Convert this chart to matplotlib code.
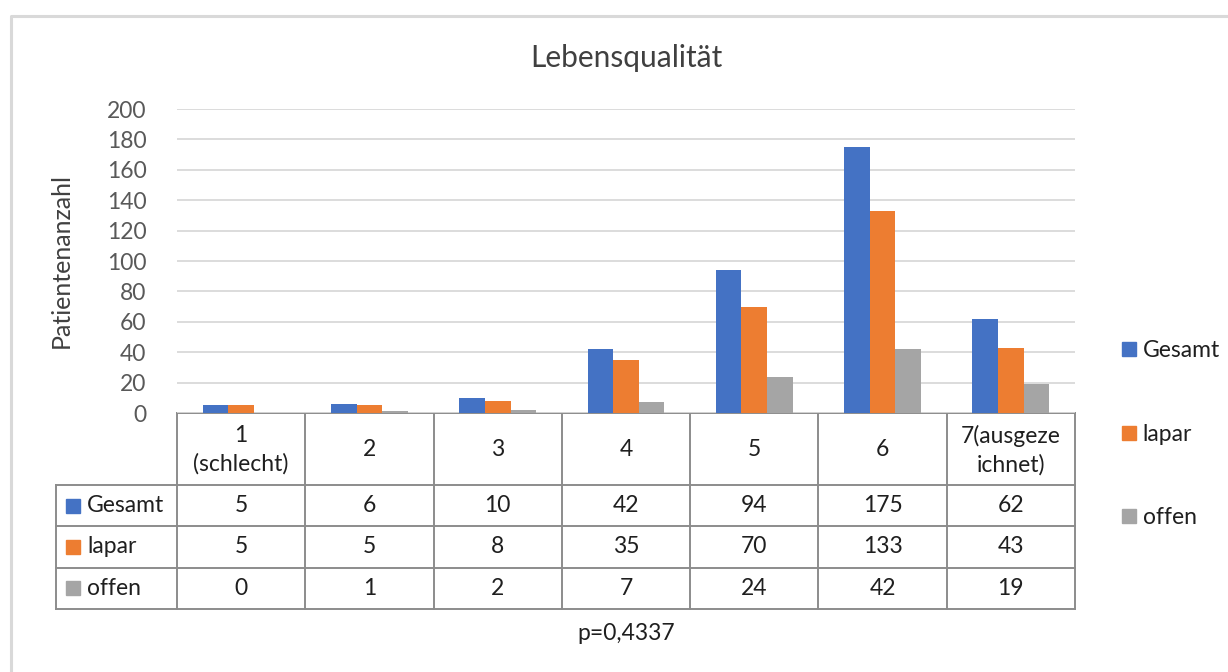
import numpy as np
import matplotlib
matplotlib.use("Agg")
import matplotlib.pyplot as plt
from matplotlib.patches import Rectangle
from matplotlib.lines import Line2D

plt.rcParams['font.family'] = ['Lato', 'DejaVu Sans']

# Lebensqualität-Skala und Patientenzahlen je Gruppe
categories = ['1\n(schlecht)', '2', '3', '4', '5', '6', '7(ausgeze\nichnet)']
series_names = ['Gesamt', 'lapar', 'offen']
gesamt = [5, 6, 10, 42, 94, 175, 62]
lapar = [5, 5, 8, 35, 70, 133, 43]
offen = [0, 1, 2, 7, 24, 42, 19]
colors = ['#4472C4', '#ED7D31', '#A5A5A5']
p_text = 'p=0,4337'

W, H = 1228, 672
fs = 16.5
fig = plt.figure(figsize=(W / 100, H / 100), dpi=100)

# overlay in pixel coordinates for frame, table and legend
ov = fig.add_axes([0, 0, 1, 1])
ov.set_xlim(0, W)
ov.set_ylim(H, 0)
ov.axis('off')

# plot area
x0, x1, ytop, ybot = 177, 1075, 109, 413
ax = fig.add_axes([x0 / W, 1 - ybot / H, (x1 - x0) / W, (ybot - ytop) / H])
ax.set_xlim(0, len(categories))
ax.set_ylim(0, 200)
ax.set_yticks(np.arange(0, 201, 20))
ax.yaxis.grid(True, color='#D9D9D9', linewidth=1.3)
ax.set_axisbelow(True)
ax.set_xticks([])
for s in ax.spines.values():
    s.set_visible(False)
ax.tick_params(axis='y', length=0, pad=22, labelsize=fs, labelcolor='#595959')
ax.patch.set_alpha(0)

width = 0.2
centers = np.arange(len(categories)) + 0.5
for i, (vals, c) in enumerate(zip([gesamt, lapar, offen], colors)):
    ax.bar(centers + (i - 1) * width, vals, width, color=c, zorder=2)

ax.set_ylabel('Patientenanzahl', fontsize=18, color='#404040')
ax.yaxis.set_label_coords((73 - x0) / (x1 - x0), 0.5)

# outer chart frame
ov.plot([11, 11, W + 5], [H + 5, 16, 16], color='#D9D9D9', linewidth=2.2)

ov.text(626, 58, 'Lebensqualität', ha='center', va='center', fontsize=21.5, color='#404040')

# data table below the bars
tcol = '#8C8C8C'
colw = (x1 - x0) / len(categories)
left = 56
hdr_bot = 485
row_h = 41.3
rows_bot = hdr_bot + 3 * row_h
# vertical lines
for k in range(len(categories) + 1):
    xx = x0 + k * colw
    ov.plot([xx, xx], [ybot, rows_bot], color=tcol, linewidth=1.4)
ov.plot([left, left], [hdr_bot, rows_bot], color=tcol, linewidth=1.4)
# horizontal lines
ov.plot([x0, x1], [ybot, ybot], color=tcol, linewidth=1.4)
for r in range(4):
    yy = hdr_bot + r * row_h
    ov.plot([left, x1], [yy, yy], color=tcol, linewidth=1.4)

for k, cat in enumerate(categories):
    ov.text(x0 + (k + 0.5) * colw, (ybot + hdr_bot) / 2 + 1, cat, ha='center', va='center',
            fontsize=fs, color='#1f1f1f', linespacing=1.4)

for r, (name, vals, c) in enumerate(zip(series_names, [gesamt, lapar, offen], colors)):
    yc = hdr_bot + (r + 0.5) * row_h
    ov.add_patch(Rectangle((66, yc - 7), 14, 14, color=c))
    ov.text(87, yc, name, ha='left', va='center', fontsize=fs, color='#1f1f1f')
    for k, v in enumerate(vals):
        ov.text(x0 + (k + 0.5) * colw, yc, str(v), ha='center', va='center',
                fontsize=fs, color='#1f1f1f')

ov.text(626, 633, p_text, ha='center', va='center', fontsize=fs, color='#1f1f1f')

# legend on the right
handles = [Line2D([], [], marker='s', linestyle='none', markersize=10, color=c) for c in colors]
fig.legend(handles, series_names, loc='upper left', bbox_to_anchor=(1106 / W, 1 - 329 / H),
           frameon=False, fontsize=fs, labelspacing=2.72, handletextpad=0.1,
           borderpad=0, handlelength=1.0, labelcolor='#1f1f1f')

fig.savefig('out.png', dpi=100)
